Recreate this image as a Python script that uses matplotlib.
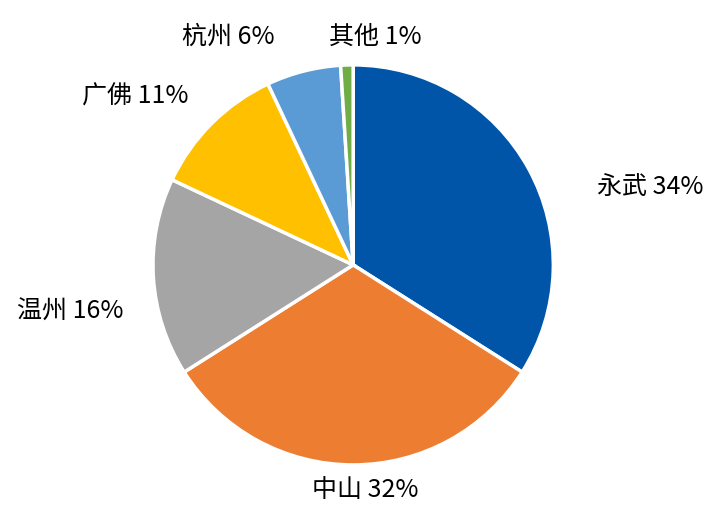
import matplotlib
matplotlib.use("Agg")
import matplotlib.pyplot as plt

categories = ["永武", "中山", "温州", "广佛", "杭州", "其他"]
values = [34, 32, 16, 11, 6, 1]
colors = ["#0055A8", "#ED7D31", "#A5A5A5", "#FFC000", "#5B9BD5", "#70AD47"]
label_pos = [(1.485, 0.39), (0.06, -1.125), (-1.415, -0.235),
             (-1.09, 0.84), (-0.625, 1.14), (0.11, 1.14)]

plt.rcParams["font.family"] = "Noto Sans CJK SC"
fig = plt.figure(figsize=(7.2, 5.07), dpi=100)
ax = fig.add_axes([0.2125, 0.083, 0.556, 0.789])
wedges, _ = ax.pie(values, colors=colors, startangle=90, counterclock=False,
                   wedgeprops=dict(edgecolor="white", linewidth=2.5))
ax.set_xlim(-1, 1)
ax.set_ylim(-1, 1)
ax.set_aspect("auto")
for c, v, (x, y) in zip(categories, values, label_pos):
    ax.text(x, y, f"{c} {v}%", ha="center", va="center", fontsize=18,
            clip_on=False)
fig.savefig("out.png")
